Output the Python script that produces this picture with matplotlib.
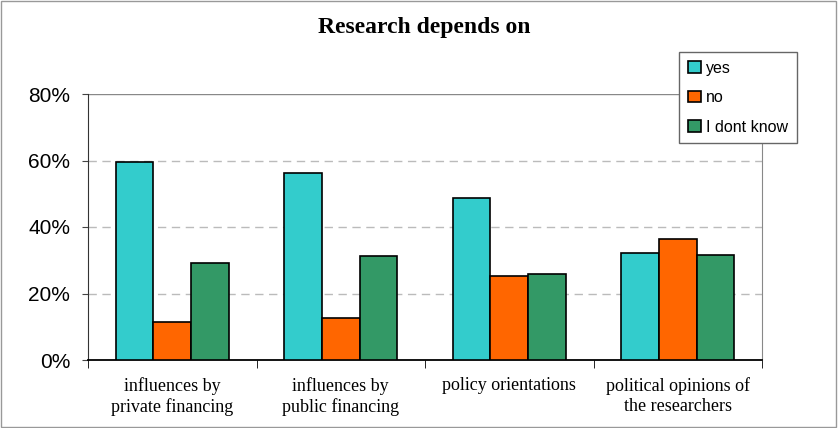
import numpy as np
import matplotlib.pyplot as plt
from matplotlib.patches import Rectangle

categories = ['influences by\nprivate financing', 'influences by\npublic financing',
              'policy orientations', 'political opinions of\nthe researchers']
yes = [59.5, 56.2, 48.8, 32.2]
no = [11.3, 12.7, 25.2, 36.4]
dont_know = [29.3, 31.4, 25.9, 31.6]
series = [('yes', yes, '#33CCCC'), ('no', no, '#FF6600'), ('I dont know', dont_know, '#339966')]

fig = plt.figure(figsize=(8.38, 4.28), dpi=100)
ax = fig.add_axes([88 / 838, 1 - 360 / 428, 674 / 838, 266 / 428])

x = np.arange(len(categories))
w = 0.223
for i, (name, vals, col) in enumerate(series):
    ax.bar(x + (i - 1) * w, vals, w, color=col, edgecolor='black', linewidth=1.2,
           label=name, zorder=3)

ax.set_xlim(-0.5, 3.5)
ax.set_ylim(0, 80)
ax.set_yticks([0, 20, 40, 60, 80])
ax.set_yticklabels(['0%', '20%', '40%', '60%', '80%'], fontsize=15, family='Liberation Sans')
ax.set_xticks(x)
ax.set_xticklabels(categories, fontsize=13, family='Liberation Serif', linespacing=1.25)
ax.tick_params(axis='x', length=0, pad=12)
ax.set_xticks([-0.5, 0.5, 1.5, 2.5, 3.5], minor=True)
ax.tick_params(axis='x', which='minor', length=6, direction='out', color='black')
ax.tick_params(axis='y', length=4.3, direction='out', color='#444444', pad=8.6)

for v in [20, 40, 60]:
    ax.axhline(v, color='#BBBBBB', linestyle=(0, (6, 4)), linewidth=1, zorder=1)
ax.axhline(80, color='#888888', linewidth=1, zorder=1)

ax.spines['top'].set_visible(False)
ax.spines['right'].set_color('#888888')
ax.spines['left'].set_color('#333333')
ax.spines['bottom'].set_color('black')
ax.spines['bottom'].set_linewidth(1.3)

fig.text(424 / 838, 1 - 28 / 428, 'Research depends on', ha='center', va='center',
         fontsize=17, fontweight='bold', family='Liberation Serif')

leg = fig.legend(loc='upper left', bbox_to_anchor=(679 / 838, 1 - 52 / 428),
                 prop={'family': 'Liberation Sans', 'size': 11.5}, frameon=True,
                 fancybox=False, edgecolor='#666666', handlelength=0.8, handleheight=0.75,
                 labelspacing=0.9, borderpad=0.55, handletextpad=0.35, borderaxespad=0,
                 framealpha=1)
leg.get_frame().set_linewidth(1)

fig.patches.append(Rectangle((0.001, 0.002), 0.997, 0.996, transform=fig.transFigure,
                             fill=False, edgecolor='#999999', linewidth=1))

fig.savefig('out.png', dpi=100)
